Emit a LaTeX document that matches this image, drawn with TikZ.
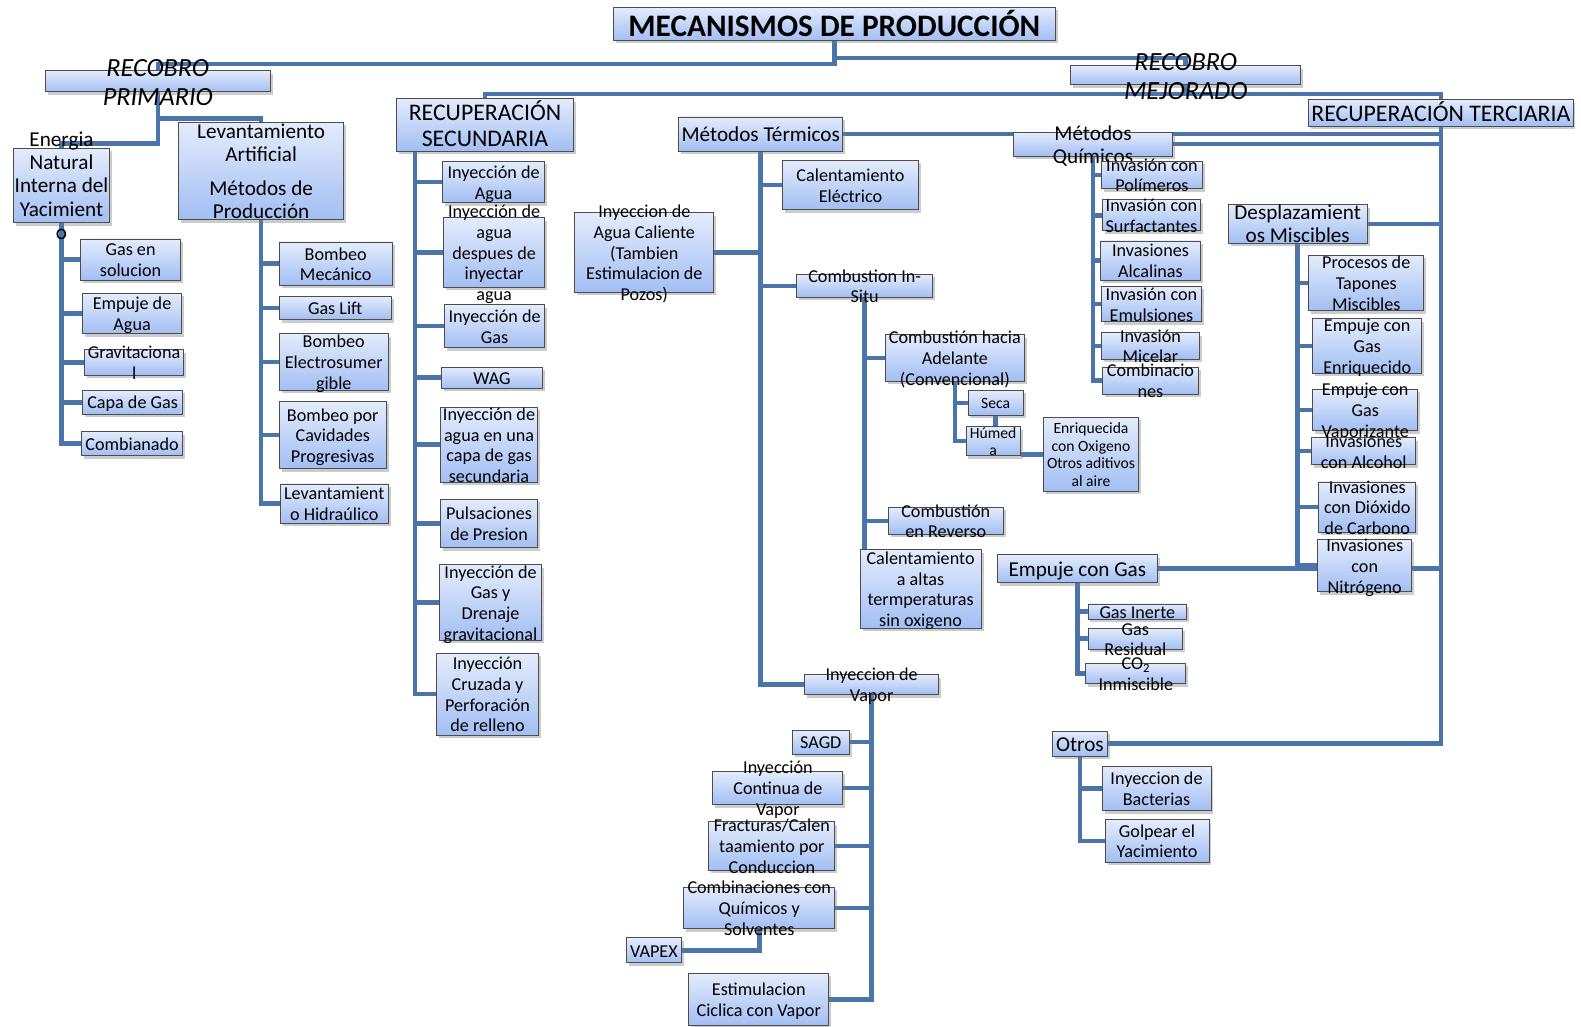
\documentclass[tikz,border=0pt]{standalone}
\usepackage{fontspec}
\setmainfont{Carlito}
\usepackage{tikz}
\usetikzlibrary{shadows, backgrounds, calc}
\definecolor{BoxTop}{HTML}{E4ECFC}
\definecolor{BoxBottom}{HTML}{A2BEF3}
\definecolor{LinkBlue}{HTML}{4A74AA}
\definecolor{EdgeGray}{HTML}{4D4D4D}
% text that may run out of its box, as in the original chart
\newcommand{\lns}[1]{\smash{\raisebox{-0.38em}{\begin{tabular}{@{}c@{}}#1\end{tabular}}}}

\begin{document}
\begin{tikzpicture}[
  x=1pt, y=-1pt,
  box/.style={rectangle, draw=EdgeGray, line width=0.9pt,
              top color=BoxTop, bottom color=BoxBottom, inner sep=0pt,
              drop shadow={shadow xshift=2.5pt, shadow yshift=-3pt, opacity=0.4},
              font=\fontsize{18}{20.5}\selectfont},
  sz/.style 2 args={minimum width=#1pt, minimum height=#2pt},
  mid/.style={font=\fontsize{21}{23}\selectfont},
  big/.style={font=\fontsize{23.6}{26}\selectfont},
  sml/.style={font=\fontsize{15.5}{17.5}\selectfont},
  ln/.style={line width=4.5pt, LinkBlue},
]
\useasboundingbox (0,0) rectangle (1568,1018);

% top levels
\node[box, sz={439}{33}, font=\fontsize{31}{36}\selectfont\bfseries] (title) at (827.5,23.5)
  {\lns{MECANISMOS DE PRODUCCIÓN}};
\node[box, sz={223}{21}, font=\fontsize{26}{29}\selectfont\itshape] (prim) at (156.5,80.5)
  {\lns{RECOBRO\\PRIMARIO}};
\node[box, sz={228}{19}, font=\fontsize{26}{29}\selectfont\itshape] (mej) at (1176,74.5)
  {\lns{RECOBRO\\MEJORADO}};
\node[box, big, sz={176}{52}] (sec) at (481,124) {\lns{RECUPERACIÓN\\SECUNDARIA}};
\node[box, big, sz={262}{26}] (terc) at (1429,112) {\lns{RECUPERACIÓN TERCIARIA}};

% recobro primario
\node[box, mid, sz={96}{74}] (ener) at (61,184)
  {\lns{Energia\\Natural\\Interna del\\Yacimient\\o}};
\node[box, mid, sz={164}{97}] (lev) at (259,169.5)
  {\lns{Levantamiento\\Artificial\\[10pt]Métodos de\\Producción}};
\node[box, sz={99}{41}] (gsol) at (129.5,257.5) {\lns{Gas en\\solucion}};
\node[box, sz={98}{40}] (eagua) at (131,311) {\lns{Empuje de\\Agua}};
\node[box, sz={98}{25}] (grav) at (133,359.5) {\lns{Gravitaciona\\l}};
\node[box, sz={99}{24}] (capa) at (131.5,399) {\lns{Capa de Gas}};
\node[box, sz={100}{24}] (comb) at (131,440) {\lns{Combianado}};
\node[box, sz={112}{43}] (bmec) at (333,261.5) {\lns{Bombeo\\Mecánico}};
\node[box, sz={111}{23}] (glift) at (332.5,305.5) {\lns{Gas Lift}};
\node[box, sz={108}{56}] (besp) at (331,359) {\lns{Bombeo\\Electrosumer\\gible}};
\node[box, sz={106}{67}] (bcp) at (330,431.5) {\lns{Bombeo por\\Cavidades\\Progresivas}};
\node[box, sz={107}{39}] (lhid) at (331.5,499.5) {\lns{Levantamient\\o Hidraúlico}};

% recuperacion secundaria
\node[box, sz={101}{41}] (s1) at (489.5,180.5) {\lns{Inyección de\\Agua}};
\node[box, sz={100}{69}] (s2) at (490,250.5)
  {\lns{Inyección de\\agua\\despues de\\inyectar\\agua}};
\node[box, sz={99}{43}] (s3) at (490.5,323.5) {\lns{Inyección de\\Gas}};
\node[box, sz={100}{21}] (s4) at (488,374.5) {\lns{WAG}};
\node[box, sz={96}{74}] (s5) at (485,441)
  {\lns{Inyección de\\agua en una\\capa de gas\\secundaria}};
\node[box, sz={96}{48}] (s6) at (485,519) {\lns{Pulsaciones\\de Presion}};
\node[box, sz={101}{75}] (s7) at (486.5,597.5)
  {\lns{Inyección de\\Gas y\\Drenaje\\gravitacional}};
\node[box, sz={101}{81}] (s8) at (483.5,688.5)
  {\lns{Inyección\\Cruzada y\\Perforación\\de relleno}};

% metodos termicos
\node[box, mid, sz={163}{34}] (term) at (754.5,133) {\lns{Métodos Térmicos}};
\node[box, sz={135}{49}] (celec) at (843.5,183.5) {\lns{Calentamiento\\Eléctrico}};
\node[box, sz={138}{79}] (acal) at (639,250.5)
  {\lns{Inyeccion de\\Agua Caliente\\(Tambien\\Estimulacion de\\Pozos)}};
\node[box, sz={135}{23}] (insitu) at (857.5,283.5) {\lns{Combustion In-\\Situ}};
\node[box, sz={138}{46}] (adel) at (947,355)
  {\lns{Combustión hacia\\Adelante\\(Convencional)}};
\node[box, sml, sz={55}{25}] (seca) at (987.5,399.5) {\lns{Seca}};
\node[box, sml, sz={54}{29}] (hum) at (985,437.5) {\lns{Húmed\\a}};
\node[box, sml, sz={94}{73}] (enr) at (1082,450.5)
  {\lns{Enriquecida\\con Oxigeno\\Otros aditivos\\al aire}};
\node[box, sz={114}{27}] (rev) at (938,516.5) {\lns{Combustión\\en Reverso}};
\node[box, sz={120}{78}] (altas) at (913,584)
  {\lns{Calentamiento\\a altas\\termperaturas\\sin oxigeno}};
\node[box, sz={133}{20}] (vapor) at (864.5,679) {\lns{Inyeccion de\\Vapor}};
\node[box, sz={56}{24}] (sagd) at (814,736) {\lns{SAGD}};
\node[box, sz={129}{33}] (icv) at (771.5,781.5) {\lns{Inyección\\Continua de\\Vapor}};
\node[box, sz={125}{48}] (frac) at (765.5,839)
  {\lns{Fracturas/Calen\\taamiento por\\Conduccion}};
\node[box, sz={150}{41}] (cqs) at (753,900.5)
  {\lns{Combinaciones con\\Químicos y\\Solventes}};
\node[box, sz={55}{25}] (vapex) at (648.5,942.5) {\lns{VAPEX}};
\node[box, sz={139}{52}] (ecv) at (752.5,991) {\lns{Estimulacion\\Ciclica con Vapor}};

% metodos quimicos
\node[box, mid, sz={158}{24}] (quim) at (1084,143) {\lns{Métodos\\Químicos}};
\node[box, sz={101}{27}] (q1) at (1142.5,173.5) {\lns{Invasión con\\Polímeros}};
\node[box, sz={98}{31}] (q2) at (1142,213.5) {\lns{Invasión con\\Surfactantes}};
\node[box, sz={100}{39}] (q3) at (1141,258.5) {\lns{Invasiones\\Alcalinas}};
\node[box, sz={100}{35}] (q4) at (1142,301.5) {\lns{Invasión con\\Emulsiones}};
\node[box, sz={98}{26}] (q5) at (1141,343) {\lns{Invasión\\Micelar}};
\node[box, sz={96}{27}] (q6) at (1141,377.5) {\lns{Combinacio\\nes}};

% desplazamientos miscibles
\node[box, mid, sz={138}{38}] (desp) at (1287,222) {\lns{Desplazamient\\os Miscibles}};
\node[box, sz={114}{55}] (d1) at (1355,280.5) {\lns{Procesos de\\Tapones\\Miscibles}};
\node[box, sz={108}{54}] (d2) at (1356,343) {\lns{Empuje con\\Gas\\Enriquecido}};
\node[box, sz={104}{41}] (d3) at (1354,406.5) {\lns{Empuje con\\Gas\\Vaporizante}};
\node[box, sz={103}{27}] (d4) at (1352.5,447.5) {\lns{Invasiones\\con Alcohol}};
\node[box, sz={96}{50}] (d5) at (1356,503) {\lns{Invasiones\\con Dióxido\\de Carbono}};
\node[box, sz={93}{52}] (d6) at (1353.5,561) {\lns{Invasiones\\con\\Nitrógeno}};

% empuje con gas y otros
\node[box, mid, sz={159}{28}] (egas) at (1068.5,564) {\lns{Empuje con Gas}};
\node[box, sz={98}{15}] (g1) at (1128,606.5) {\lns{Gas Inerte}};
\node[box, sz={94}{21}] (g2) at (1126,633.5) {\lns{Gas\\Residual}};
\node[box, sz={99}{20}] (g3) at (1126.5,668) {\lns{CO\textsubscript{2}\\Inmiscible}};
\node[box, mid, sz={54}{25}] (otros) at (1071,737.5) {\lns{Otros}};
\node[box, sz={108}{44}] (o1) at (1147,782) {\lns{Inyeccion de\\Bacterias}};
\node[box, sz={103}{42}] (o2) at (1147.5,834) {\lns{Golpear el\\Yacimiento}};

\begin{scope}[on background layer]
% main branches
\draw[ln] (title.south) -- ++(0,23) -| (prim.north);
\draw[ln] (title.south) -- ++(0,17) -| (mej.north);
\draw[ln] (mej.south) -- ++(0,9) -| (sec.north);
\draw[ln] (mej.south) -- ++(0,9) -| (terc.north);
\draw[ln] (prim.south) -- ++(0,26) -| (lev.north);
\draw[ln] (prim.south) -- ++(0,51) -| (ener.north);
\foreach \c in {gsol,eagua,grav,capa,comb}
  \draw[ln] (ener.south) |- (\c.west);
\foreach \c in {bmec,glift,besp,bcp,lhid}
  \draw[ln] (lev.south) |- (\c.west);
\foreach \c in {s1,s2,s3,s4,s5,s6,s7,s8}
  \draw[ln] ($(sec.south west)+(19,0)$) |- (\c.west);

% terciaria
\draw[ln] (term.east) -- (term.east -| terc.south);
\foreach \c in {quim,desp,egas,otros}
  \draw[ln] (terc.south) |- (\c.east);
\foreach \c in {celec,insitu,vapor}
  \draw[ln] (term.south) |- (\c.west);
\draw[ln] (term.south) |- (acal.east);
\foreach \c in {adel,rev}
  \draw[ln] (insitu.south) |- (\c.west);
\draw[ln] (insitu.south) -- (insitu.south |- altas.west);
\foreach \c in {seca,hum}
  \draw[ln] (adel.south) |- (\c.west);
\draw[ln] (seca.south) -- (seca.south |- hum.north);
\draw[ln] (enr.west) -- (enr.west -| hum.east);
\foreach \c in {sagd,icv,frac,cqs,ecv}
  \draw[ln] (vapor.south) |- (\c.east);
\draw[ln] (cqs.south) |- (vapex.east);
\foreach \c in {q1,q2,q3,q4,q5,q6}
  \draw[ln] (quim.south) |- (\c.west);
\foreach \c in {d1,d2,d3,d4,d5,d6}
  \draw[ln] (desp.south) |- (\c.west);
\foreach \c in {g1,g2,g3}
  \draw[ln] (egas.south) |- (\c.west);
\foreach \c in {o1,o2}
  \draw[ln] (otros.south) |- (\c.west);
\end{scope}

\end{tikzpicture}
\end{document}
